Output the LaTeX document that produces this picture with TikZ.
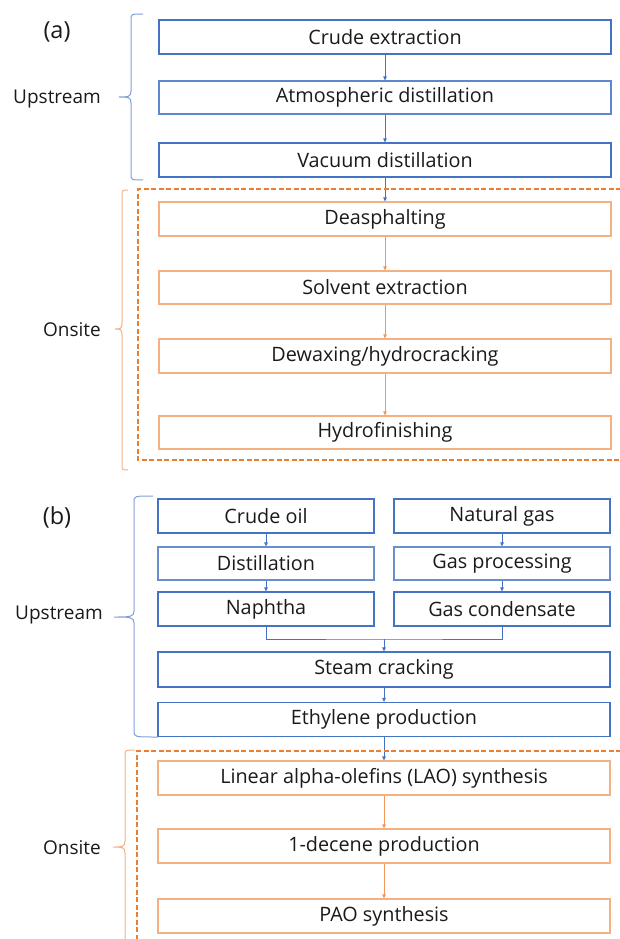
\documentclass[tikz,border=0pt]{standalone}
\usepackage{fontspec}
\setmainfont{Open Sans}
\usetikzlibrary{arrows.meta}
\definecolor{bl}{HTML}{4472C4}
\definecolor{blb}{HTML}{7F9FD6}
\definecolor{orl}{HTML}{F4B183}
\definecolor{ord}{HTML}{ED7D31}
\definecolor{txt}{HTML}{1A1A1A}
\begin{document}
\begin{tikzpicture}[x=1pt,y=-1pt,
  every node/.style={font=\fontsize{19.8}{22}\selectfont, text=txt},
  bbox/.style={draw=bl, line width=1.1pt, minimum height=34pt, inner sep=0pt},
  obox/.style={draw=orl, line width=1.1pt, minimum height=34pt, inner sep=0pt},
  wide/.style={minimum width=452pt},
  half/.style={minimum width=216pt},
  barr/.style={draw=bl, line width=0.8pt, -{Triangle[length=4pt,width=3.5pt]}},
  oarr/.style={draw=ord!80!white, line width=0.8pt, -{Triangle[length=4pt,width=3.5pt]}},
  dbox/.style={draw=ord, line width=1.8pt, dash pattern=on 5pt off 2.5pt},
  bbrace/.style={draw=blb, line width=1pt},
  obrace/.style={draw=orl, line width=1pt},
  side/.style={font=\fontsize{19}{21}\selectfont},
  lab/.style={font=\fontsize{23.5}{25}\selectfont}
]
\useasboundingbox (0,0) rectangle (620,939);

% ---------------- (a) ----------------
\node[lab] (la) at (57,32) {(a)};
\node[bbox,wide] (a1) at (385,37) {Crude extraction};
\node[bbox,wide,minimum height=33pt,draw=bl!85!white] (a2) at (385,97.5) {Atmospheric distillation};
\node[bbox,wide] (a3) at (385,160) {Vacuum distillation};
\node[obox,wide] (a4) at (385,219) {Deasphalting};
\node[obox,wide,minimum height=33pt] (a5) at (385,287.5) {Solvent extraction};
\node[obox,wide] (a6) at (385,356) {Dewaxing/hydrocracking};
\node[obox,wide,minimum height=33pt] (a7) at (385,432.5) {Hydrofinishing};

\draw[barr] (a1) -- (a2);
\draw[barr] (a2) -- (a3);
\draw[barr] (a3) -- (a4);
\draw[oarr] (a4) -- (a5);
\draw[oarr] (a5) -- (a6);
\draw[oarr] (a6) -- (a7);

\draw[dbox] (621,189) -- (138,189) -- (138,460) -- (621,460);

\node[side] (ua) at (57,99) {Upstream};
\node[side] (oa) at (72,330) {Onsite};

% braces (a)
\draw[bbrace] (143,14) .. controls (131,14) .. (131,20) -- (131,91)
  .. controls (131,97) and (128,97) .. (119,97)
  .. controls (128,97) and (131,97) .. (131,103) -- (131,174)
  .. controls (131,180) .. (143,180);
\draw[obrace] (128,190) .. controls (122,190) .. (122,196) -- (122,323)
  .. controls (122,329) and (120,329) .. (115,329)
  .. controls (120,329) and (122,329) .. (122,335) -- (122,464)
  .. controls (122,470) .. (128,470);

% ---------------- (b) ----------------
\node[lab] (lb) at (57,517) {(b)};
\node[bbox,half] (b1) at (266,516) {Crude oil};
\node[bbox,half] (b2) at (502,516) {Natural gas};
\node[bbox,half,minimum height=33pt,draw=bl!80!white] (b3) at (266,563.5) {Distillation};
\node[bbox,half,minimum height=33pt,draw=bl!80!white] (b4) at (502,563.5) {Gas processing};
\node[bbox,half] (b5) at (266,609) {Naphtha};
\node[bbox,half] (b6) at (502,609) {Gas condensate};
\node[bbox,wide,minimum height=35pt] (b7) at (384,669.5) {Steam cracking};
\node[bbox,wide] (b8) at (384,719.5) {Ethylene production};
\node[obox,wide] (b9) at (384,778) {Linear alpha-olefins (LAO) synthesis};
\node[obox,wide] (b10) at (384,846) {1-decene production};
\node[obox,wide] (b11) at (384,916) {PAO synthesis};

\draw[barr] (b1) -- (b3);
\draw[barr] (b2) -- (b4);
\draw[barr] (b3) -- (b5);
\draw[barr] (b4) -- (b6);
\coordinate (m) at (384,639);
\draw[draw=bl, line width=0.8pt] (b5.south) |- (m) -| (b6.south);
\draw[barr] (m) -- (b7);
\draw[barr] (b7) -- (b8);
\draw[barr] (b8) -- (b9);
\draw[oarr] (b9) -- (b10);
\draw[oarr] (b10) -- (b11);

\draw[dbox] (621,751) -- (137,751) -- (137,941);

\node[side] (ub) at (59,615) {Upstream};
\node[side] (ob) at (72,848) {Onsite};

\draw[bbrace] (153,496) .. controls (134,496) .. (134,502) -- (134,611)
  .. controls (134,617) and (130,617) .. (114,617)
  .. controls (130,617) and (134,617) .. (134,623) -- (134,731)
  .. controls (134,737) .. (158,737);
\draw[obrace] (135,750) .. controls (125,750) .. (125,756) -- (125,841)
  .. controls (125,847) and (122,847) .. (113,847)
  .. controls (122,847) and (125,847) .. (125,853) -- (125,941);
\end{tikzpicture}
\end{document}
